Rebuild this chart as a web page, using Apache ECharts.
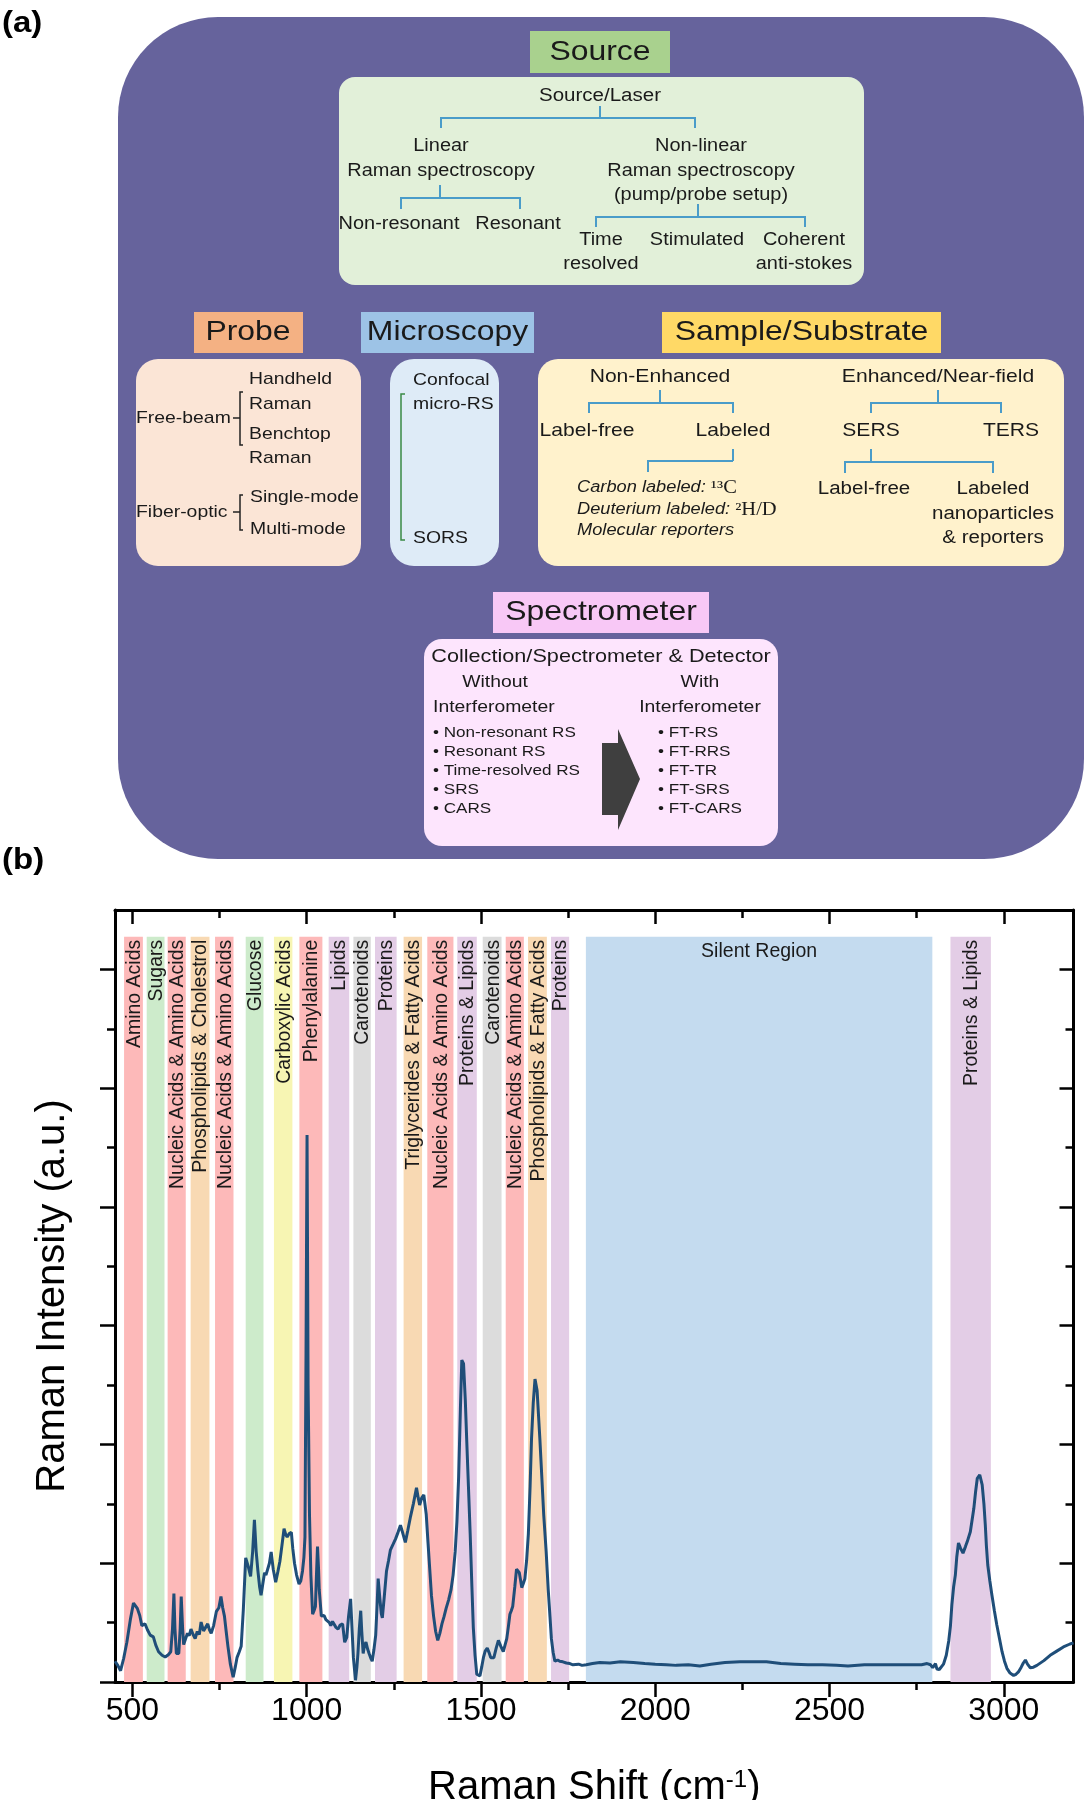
<!DOCTYPE html>
<html>
<head>
<meta charset="utf-8">
<script src="https://cdn.jsdelivr.net/npm/echarts@6.0.0/dist/echarts.min.js"></script>
<style>
html,body{margin:0;padding:0;background:#fff;}
#chart{width:1084px;height:1800px;}
</style>
</head>
<body>
<div id="chart"></div>
<script>
// ---------------- DATA ----------------
var xMajorTicks = [500, 1000, 1500, 2000, 2500, 3000];
var xMinorTicks = [750, 1250, 1750, 2250, 2750];
var yMajorTicks = [0, 2, 4, 6, 8, 10, 12];
var yMinorTicks = [1, 3, 5, 7, 9, 11];

var bandLabels = ['Amino Acids','Sugars','Nucleic Acids & Amino Acids','Phospholipids & Cholestrol','Nucleic Acids & Amino Acids','Glucose','Carboxylic Acids','Phenylalanine','Lipids','Carotenoids','Proteins','Triglycerides & Fatty Acids','Nucleic Acids & Amino Acids','Proteins & Lipids','Carotenoids','Nucleic Acids & Amino Acids','Phospholipids & Fatty Acids','Proteins','Silent Region','Proteins & Lipids'];
var bandStart = [476, 541, 601, 667, 737, 825, 906, 979, 1063, 1134, 1196, 1278, 1346, 1432, 1505, 1571, 1635, 1701, 1801, 2847];
var bandEnd   = [530, 592, 653, 721, 790, 876, 959, 1045, 1122, 1184, 1258, 1331, 1421, 1488, 1559, 1623, 1689, 1753, 2795, 2963];
var bandGroup = ['amino','sugar','nucleic','phospho','nucleic','sugar','carboxylic','amino','protein','carotenoid','protein','phospho','nucleic','protein','carotenoid','nucleic','phospho','protein','silent','protein'];

var shift = [450,458,466,475,484,494,503,514,521,527,536,543,551,560,567,575,585,594,603,610,615,619,622,626,633,637,640,644,647,652,658,663,668,674,680,686,692,697,704,710,716,721,726,733,741,748,754,759,764,769,774,781,789,795,800,806,812,818,825,832,839,845,850,855,860,865,869,874,879,883,887,893,898,904,911,917,923,929,935,940,944,950,956,960,965,971,978,983,988,992,995,998,1001,1004,1008,1012,1017,1021,1025,1028,1031,1034,1036,1042,1050,1055,1060,1065,1069,1074,1079,1084,1090,1096,1103,1109,1115,1120,1126,1130,1134,1140,1144,1147,1151,1155,1158,1162,1166,1170,1175,1179,1184,1188,1193,1198,1202,1205,1210,1214,1217,1222,1229,1235,1240,1248,1255,1262,1269,1276,1283,1290,1298,1306,1315,1320,1324,1330,1336,1343,1348,1353,1358,1364,1370,1376,1382,1388,1394,1400,1407,1414,1420,1426,1431,1436,1441,1445,1450,1455,1459,1464,1469,1474,1478,1483,1488,1497,1502,1507,1512,1518,1523,1528,1533,1537,1544,1550,1557,1564,1569,1574,1579,1583,1587,1591,1597,1602,1606,1610,1614,1617,1621,1626,1631,1636,1641,1645,1650,1655,1661,1665,1669,1675,1680,1687,1693,1698,1702,1707,1712,1720,1726,1735,1745,1755,1764,1780,1790,1802,1820,1841,1870,1900,1937,1970,2000,2032,2060,2095,2128,2160,2200,2243,2280,2319,2360,2400,2438,2480,2520,2553,2600,2659,2700,2740,2764,2780,2790,2796,2804,2808,2815,2827,2835,2842,2847,2851,2856,2861,2865,2870,2876,2883,2890,2895,2904,2914,2919,2924,2931,2938,2943,2947,2950,2954,2960,2966,2973,2980,2988,2995,3002,3009,3018,3028,3035,3042,3050,3056,3062,3068,3076,3085,3095,3115,3133,3152,3171,3190,3200];
var intensity = [0.35,0.28,0.19,0.40,0.67,1.05,1.33,1.24,1.12,0.95,0.98,0.88,0.79,0.76,0.62,0.51,0.45,0.42,0.46,0.51,0.90,1.49,0.90,0.48,0.48,0.90,1.44,0.90,0.63,0.72,0.82,0.78,0.89,0.80,0.73,0.85,0.80,1.01,0.86,0.92,0.98,0.88,0.82,0.95,1.19,1.25,1.44,1.25,1.11,0.85,0.60,0.30,0.08,0.25,0.41,0.50,0.60,1.20,2.09,1.95,1.78,2.20,2.73,2.20,1.87,1.60,1.46,1.65,1.84,1.80,1.78,2.00,2.19,1.90,1.68,1.85,2.03,2.30,2.58,2.48,2.44,2.50,2.52,2.25,2.00,1.80,1.65,1.70,1.87,2.10,2.44,5.50,9.21,5.00,2.82,1.80,1.14,1.20,1.27,1.80,2.28,1.90,1.55,1.11,1.12,1.05,1.08,1.00,0.95,1.02,1.05,0.92,0.89,0.96,0.98,0.67,0.75,1.10,1.40,0.90,0.41,0.03,0.25,0.48,0.90,1.20,0.85,0.48,0.62,0.67,0.55,0.48,0.40,0.35,0.55,0.79,1.30,1.74,1.40,1.15,1.08,1.40,1.87,2.05,2.22,2.32,2.41,2.52,2.64,2.50,2.35,2.55,2.79,3.00,3.27,3.10,2.98,3.10,3.15,2.82,2.35,1.90,1.45,1.11,0.85,0.70,0.82,0.98,1.10,1.24,1.38,1.55,1.80,2.19,2.70,3.46,4.60,5.42,5.36,4.75,4.09,3.30,2.50,1.60,0.92,0.45,0.13,0.10,0.25,0.41,0.52,0.57,0.50,0.41,0.44,0.41,0.58,0.70,0.60,0.51,0.62,0.73,0.95,1.14,1.20,1.27,1.60,1.90,1.88,1.84,1.70,1.59,1.65,1.74,2.05,2.50,3.30,4.09,4.70,5.10,4.91,4.50,4.09,3.40,2.82,2.20,1.55,1.10,0.73,0.50,0.35,0.37,0.35,0.34,0.32,0.31,0.29,0.30,0.28,0.29,0.31,0.33,0.32,0.34,0.33,0.31,0.30,0.29,0.28,0.29,0.27,0.30,0.33,0.34,0.34,0.34,0.31,0.30,0.29,0.29,0.28,0.27,0.29,0.29,0.29,0.29,0.29,0.31,0.29,0.24,0.31,0.22,0.21,0.30,0.45,0.69,0.95,1.30,1.60,1.80,2.10,2.34,2.25,2.17,2.28,2.36,2.53,2.92,3.20,3.43,3.49,3.32,3.00,2.64,2.30,1.97,1.70,1.46,1.20,0.96,0.72,0.51,0.35,0.23,0.15,0.11,0.13,0.17,0.25,0.32,0.37,0.30,0.24,0.25,0.28,0.36,0.45,0.52,0.59,0.64,0.66];

// ---------------- STYLE ----------------
var groupColor = {
  amino:'#fdb9b9', nucleic:'#fdb9b9', sugar:'#cdebcb', phospho:'#f8d9b3',
  carboxylic:'#f7f5b3', protein:'#e3cde6', carotenoid:'#dcdcdc', silent:'#c4dbef'
};
var bandTop = 12.55;
var FONT = 'Liberation Sans, Arial, sans-serif';
var LINE_BLUE = '#4a9cc9';
var SX = 1.14;

function T(text, x, y, size, opt) {
  opt = opt || {};
  return {
    type: 'text', x: x, y: y, scaleX: opt.sx || SX, z: 10,
    style: {
      text: text, fill: opt.fill || '#1a1a1a', fontSize: size, fontFamily: FONT,
      fontStyle: opt.italic ? 'italic' : 'normal', fontWeight: opt.bold ? 'bold' : 'normal',
      align: opt.align || 'center', verticalAlign: 'middle', rich: opt.rich
    }
  };
}
function L(points, color, w) {
  return { type: 'polyline', z: 10, shape: { points: points }, style: { stroke: color || LINE_BLUE, lineWidth: w || 2, fill: null } };
}
function R(x, y, w, h, r, fill) {
  return { type: 'rect', z: 5, shape: { x: x, y: y, width: w, height: h, r: r }, style: { fill: fill } };
}

var g = [];
// panel (a) background
g.push(T('(a)', 2, 24, 30, { bold: true, align: 'left', sx: 1.1, fill: '#000' }));
g.push(T('(b)', 2, 861, 30, { bold: true, align: 'left', sx: 1.1, fill: '#000' }));
g.push({ type: 'rect', z: 1, shape: { x: 118, y: 17, width: 966, height: 842, r: 100 }, style: { fill: '#66639c' } });

// Source
g.push(R(530, 31, 140, 42, 0, '#a9d18e'));
g.push(T('Source', 600, 52, 28));
g.push(R(339, 77, 525, 208, 16, '#e2f0d9'));
g.push(T('Source/Laser', 600, 96, 18));
g.push(L([[600, 106], [600, 118]]));
g.push(L([[441, 128], [441, 118], [695, 118], [695, 128]]));
g.push(T('Linear', 441, 146, 17.5));
g.push(T('Raman spectroscopy', 441, 171, 17.5));
g.push(T('Non-linear', 701, 146, 17.5));
g.push(T('Raman spectroscopy', 701, 171, 17.5));
g.push(T('(pump/probe setup)', 701, 195, 17.5));
g.push(L([[440, 185], [440, 198]]));
g.push(L([[401, 209], [401, 198], [520, 198], [520, 209]]));
g.push(T('Non-resonant', 399, 224, 17.5));
g.push(T('Resonant', 518, 224, 17.5));
g.push(L([[698, 204], [698, 217]]));
g.push(L([[596, 227], [596, 217], [805, 217], [805, 227]]));
g.push(T('Time', 601, 240, 17.5));
g.push(T('resolved', 601, 264, 17.5));
g.push(T('Stimulated', 697, 240, 17.5));
g.push(T('Coherent', 804, 240, 17.5));
g.push(T('anti-stokes', 804, 264, 17.5));

// Probe
g.push(R(194, 312, 109, 41, 0, '#f4b183'));
g.push(T('Probe', 248, 332, 28));
g.push(R(136, 359, 225, 207, 22, '#fbe5d6'));
g.push(T('Handheld', 249, 379, 17, { align: 'left' }));
g.push(T('Raman', 249, 404, 17, { align: 'left' }));
g.push(T('Benchtop', 249, 434, 17, { align: 'left' }));
g.push(T('Raman', 249, 458, 17, { align: 'left' }));
g.push(T('Free-beam', 136, 418, 17, { align: 'left' }));
g.push(L([[243, 392], [240, 392], [240, 445], [243, 445]], '#222', 1.5));
g.push(L([[233, 418], [240, 418]], '#222', 1.5));
g.push(T('Single-mode', 250, 497, 17, { align: 'left' }));
g.push(T('Multi-mode', 250, 529, 17, { align: 'left' }));
g.push(T('Fiber-optic', 136, 512, 17, { align: 'left' }));
g.push(L([[243, 495], [240, 495], [240, 530], [243, 530]], '#222', 1.5));
g.push(L([[233, 512], [240, 512]], '#222', 1.5));

// Microscopy
g.push(R(361, 312, 173, 41, 0, '#9dc3e6'));
g.push(T('Microscopy', 447.5, 332, 28));
g.push(R(390, 359, 109, 207, 24, '#deebf7'));
g.push(T('Confocal', 413, 380, 17, { align: 'left' }));
g.push(T('micro-RS', 413, 404, 17, { align: 'left' }));
g.push(T('SORS', 413, 538, 17, { align: 'left' }));
g.push(L([[405, 394], [401, 394], [401, 540], [405, 540]], '#3a8a46', 1.5));

// Sample/Substrate
g.push(R(662, 312, 279, 41, 0, '#ffd966'));
g.push(T('Sample/Substrate', 801.5, 332, 28));
g.push(R(538, 359, 526, 207, 20, '#fff2cc'));
g.push(T('Non-Enhanced', 660, 377, 18.5));
g.push(L([[660, 390], [660, 403]]));
g.push(L([[589, 413], [589, 403], [733, 403], [733, 413]]));
g.push(T('Label-free', 587, 431, 18.5));
g.push(T('Labeled', 733, 431, 18.5));
g.push(L([[733, 449], [733, 461]]));
g.push(L([[648, 472], [648, 461], [733, 461]]));
var richI = {
  i: { fontStyle: 'italic', fontSize: 16, fontFamily: FONT, fill: '#1a1a1a' },
  s: { fontSize: 18, fontFamily: 'Liberation Serif, DejaVu Serif, serif', fill: '#1a1a1a' }
};
g.push(T('{i|Carbon labeled: }{s|¹³C}', 577, 488, 16, { align: 'left', rich: richI }));
g.push(T('{i|Deuterium labeled: }{s|²H/D}', 577, 510, 16, { align: 'left', rich: richI }));
g.push(T('{i|Molecular reporters}', 577, 531, 16, { align: 'left', rich: richI }));
g.push(T('Enhanced/Near-field', 938, 377, 18.5));
g.push(L([[938, 390], [938, 403]]));
g.push(L([[871, 413], [871, 403], [1001, 403], [1001, 413]]));
g.push(T('SERS', 871, 431, 18.5));
g.push(T('TERS', 1011, 431, 18.5));
g.push(L([[871, 449], [871, 462]]));
g.push(L([[845, 473], [845, 462], [993, 462], [993, 473]]));
g.push(T('Label-free', 864, 489, 18));
g.push(T('Labeled', 993, 489, 18));
g.push(T('nanoparticles', 993, 514, 18));
g.push(T('& reporters', 993, 538, 18));

// Spectrometer
g.push(R(493, 592, 216, 41, 0, '#f8c8f6'));
g.push(T('Spectrometer', 601, 612, 28));
g.push(R(424, 639, 354, 207, 18, '#fde5fd'));
g.push(T('Collection/Spectrometer & Detector', 601, 657, 19));
g.push(T('Without', 495, 682, 17));
g.push(T('Interferometer', 433, 707, 17, { align: 'left' }));
g.push(T('With', 700, 682, 17));
g.push(T('Interferometer', 700, 707, 17));
var leftBul = ['• Non-resonant RS', '• Resonant RS', '• Time-resolved RS', '• SRS', '• CARS'];
var rightBul = ['• FT-RS', '• FT-RRS', '• FT-TR', '• FT-SRS', '• FT-CARS'];
for (var k = 0; k < 5; k++) {
  g.push(T(leftBul[k], 433, 733 + k * 19, 15, { align: 'left' }));
  g.push(T(rightBul[k], 658, 733 + k * 19, 15, { align: 'left' }));
}
g.push({ type: 'polygon', z: 10, shape: { points: [[602, 743], [618, 743], [618, 729], [640, 779], [618, 830], [618, 815], [602, 815]] }, style: { fill: '#3f3f3f' } });

// ---------------- CHART ----------------
var chart = echarts.init(document.getElementById('chart'), null, { renderer: 'canvas' });
var axisLineStyle = { color: '#000', width: 3 };
var tickStyle = { color: '#000', width: 2.5 };

function xAx(pos, ticks, len, inside, showLine, showLabel, extra) {
  var a = {
    type: 'value', position: pos, min: 450, max: 3200, gridIndex: 0,
    axisLine: { show: showLine, onZero: false, lineStyle: axisLineStyle },
    axisTick: { show: true, customValues: ticks, length: len, inside: inside, lineStyle: tickStyle },
    axisLabel: showLabel ? { show: true, customValues: ticks, fontSize: 32, color: '#000', fontFamily: FONT, margin: 13,
      formatter: function (v) { return String(v); } } : { show: false },
    splitLine: { show: false }
  };
  return Object.assign(a, extra || {});
}
function yAx(pos, ticks, len, inside, showLine, extra) {
  var a = {
    type: 'value', position: pos, min: 0, max: 13, gridIndex: 0,
    axisLine: { show: showLine, onZero: false, lineStyle: axisLineStyle },
    axisTick: { show: true, customValues: ticks, length: len, inside: inside, lineStyle: tickStyle },
    axisLabel: { show: false },
    splitLine: { show: false }
  };
  return Object.assign(a, extra || {});
}

var bandData = bandStart.map(function (s, i) { return [i, s, bandEnd[i]]; });

chart.setOption({
  animation: false,
  backgroundColor: '#fff',
  textStyle: { fontFamily: FONT },
  grid: { left: 115, right: 10.5, top: 910, bottom: 118, containLabel: false, outerBoundsMode: 'none' },
  xAxis: [
    xAx('bottom', xMajorTicks, 15, false, true, true, {
      name: 'Raman Shift (cm{sup|-1})', nameLocation: 'middle', nameGap: 86,
      nameTextStyle: { fontSize: 40, color: '#000', fontFamily: FONT,
        rich: { sup: { fontSize: 24, verticalAlign: 'top', color: '#000', fontFamily: FONT, padding: [0, 0, 16, 0] } } }
    }),
    xAx('bottom', xMinorTicks, 8, false, false, false),
    xAx('top', xMajorTicks, 14, true, true, false),
    xAx('top', xMinorTicks, 8, true, false, false)
  ],
  yAxis: [
    yAx('left', yMajorTicks, 15, false, true, {
      name: 'Raman Intensity (a.u.)', nameLocation: 'middle', nameGap: 42,
      nameTextStyle: { fontSize: 40, color: '#000', fontFamily: FONT }
    }),
    yAx('left', yMinorTicks, 8, false, false),
    yAx('right', yMajorTicks, 14, true, true),
    yAx('right', yMinorTicks, 8, true, false)
  ],
  graphic: g,
  series: [
    {
      type: 'custom', name: 'Assignments', xAxisIndex: 0, yAxisIndex: 0, z: 1,
      data: bandData, encode: { x: [1, 2] },
      renderItem: function (params, api) {
        var i = api.value(0);
        var p0 = api.coord([api.value(1), 0]);
        var p1 = api.coord([api.value(2), bandTop]);
        var w = p1[0] - p0[0];
        var cx = (p0[0] + p1[0]) / 2;
        var horiz = w > 200;
        return {
          type: 'group',
          children: [
            { type: 'rect', shape: { x: p0[0], y: p1[1], width: w, height: p0[1] - p1[1] }, style: { fill: groupColor[bandGroup[i]] } },
            {
              type: 'text', x: horiz ? cx : cx + 1, y: horiz ? p1[1] + 15 : p1[1] + 3,
              rotation: horiz ? 0 : Math.PI / 2,
              style: { text: bandLabels[i], fill: '#1a1a1a', fontSize: 19.5, fontFamily: FONT,
                align: horiz ? 'center' : 'right', verticalAlign: 'middle' }
            }
          ]
        };
      }
    },
    {
      type: 'line', name: 'Spectrum', xAxisIndex: 0, yAxisIndex: 0, z: 5,
      data: shift.map(function (x, i) { return [x, intensity[i]]; }),
      showSymbol: false, symbol: 'none',
      lineStyle: { color: '#1f4e79', width: 3 }
    }
  ]
});
</script>
</body>
</html>
